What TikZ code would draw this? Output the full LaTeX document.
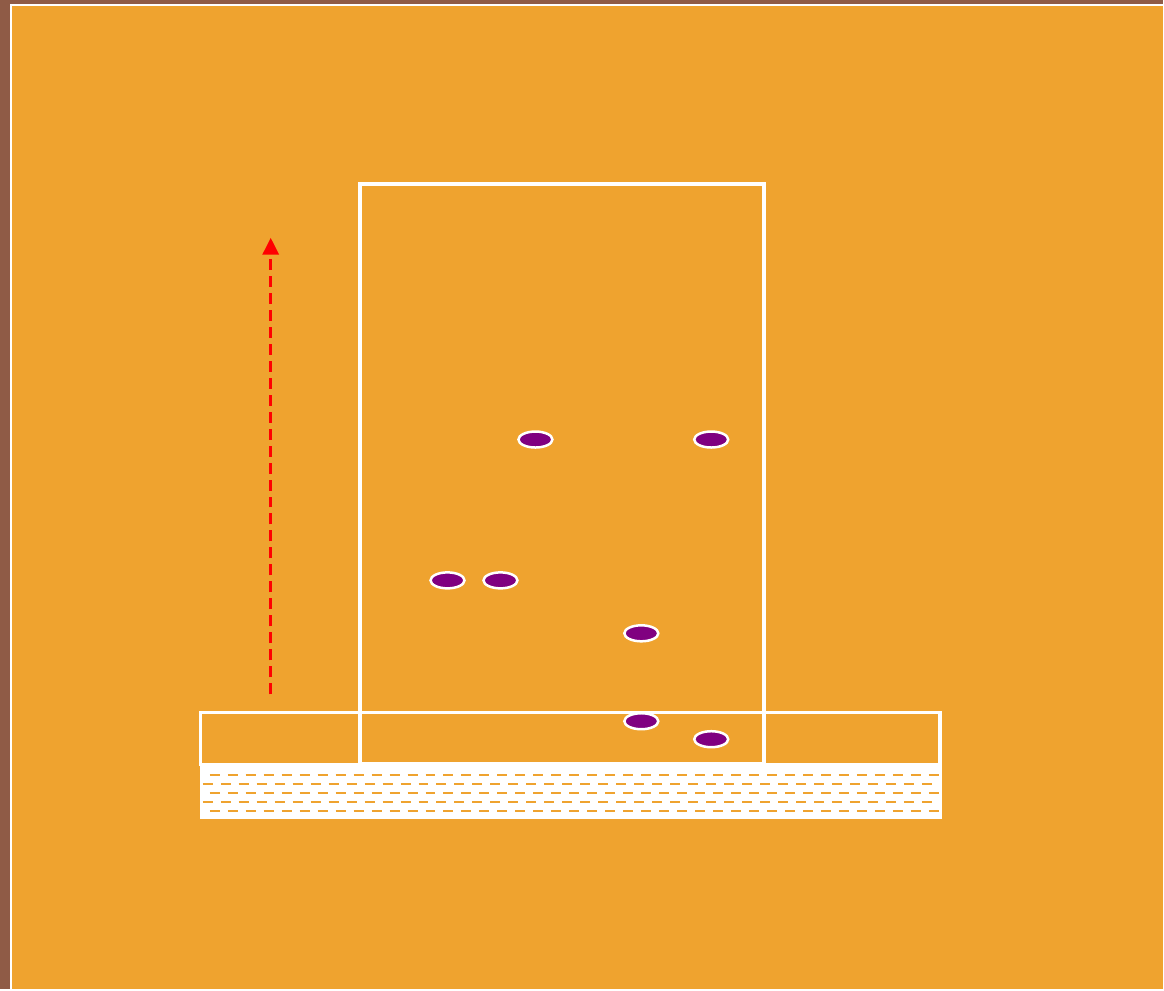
\documentclass[tikz,border=0pt]{standalone}
\usetikzlibrary{shapes.geometric,arrows.meta}

\definecolor{bgbrown}{RGB}{143,91,70}
\definecolor{sand}{RGB}{239,163,47}
\definecolor{beadpurple}{RGB}{128,0,128}

\tikzset{
  bead/.style={ellipse, draw=white, fill=beadpurple, line width=0.05cm,
    minimum width=0.68cm, minimum height=0.32cm, inner sep=0pt},
  frame/.style={draw=white, line width=0.08cm},
  stripe/.style={sand, line width=0.05cm, dash pattern=on 0.2cm off 0.16cm}
}

\begin{document}
\begin{tikzpicture}[x=0.02cm,y=-0.02cm]
                % background and board
                \fill[bgbrown] (0,0) rectangle (1164,990);
                \fill[sand] (11,5) rectangle (1164,990);
                \draw[white, line width=0.05cm] (11,990) -- (11,5) -- (1164,5);

                % column and base
                \draw[frame] (360,184) rectangle (765,765);
                \draw[white, line width=0.065cm] (201,713) rectangle (941,765);
                \fill[white] (200,765) rectangle (943,820);
                \foreach \y in {776,794,812}
                    \draw[stripe] (210,\y) -- (940,\y);
                \foreach \y in {785,803}
                    \draw[stripe] (203,\y) -- (940,\y);

                % beads
                \node[bead] (b1) at (536,440) {};
                \node[bead] (b2) at (712,440) {};
                \node[bead] (b3) at (448,581) {};
                \node[bead] (b4) at (501,581) {};
                \node[bead] (b5) at (642,634) {};
                \node[bead] (b6) at (642,722) {};
                \node[bead] (b7) at (712,740) {};

                % upward arrow
                \coordinate (tail) at (271,695);
                \coordinate (tip) at (271,238);
                \draw[red, line width=0.065cm, dash pattern=on 0.22cm off 0.12cm,
                    -{Triangle[width=0.32cm,length=0.34cm]}] (tail) -- (tip);
            \end{tikzpicture}
\end{document}
